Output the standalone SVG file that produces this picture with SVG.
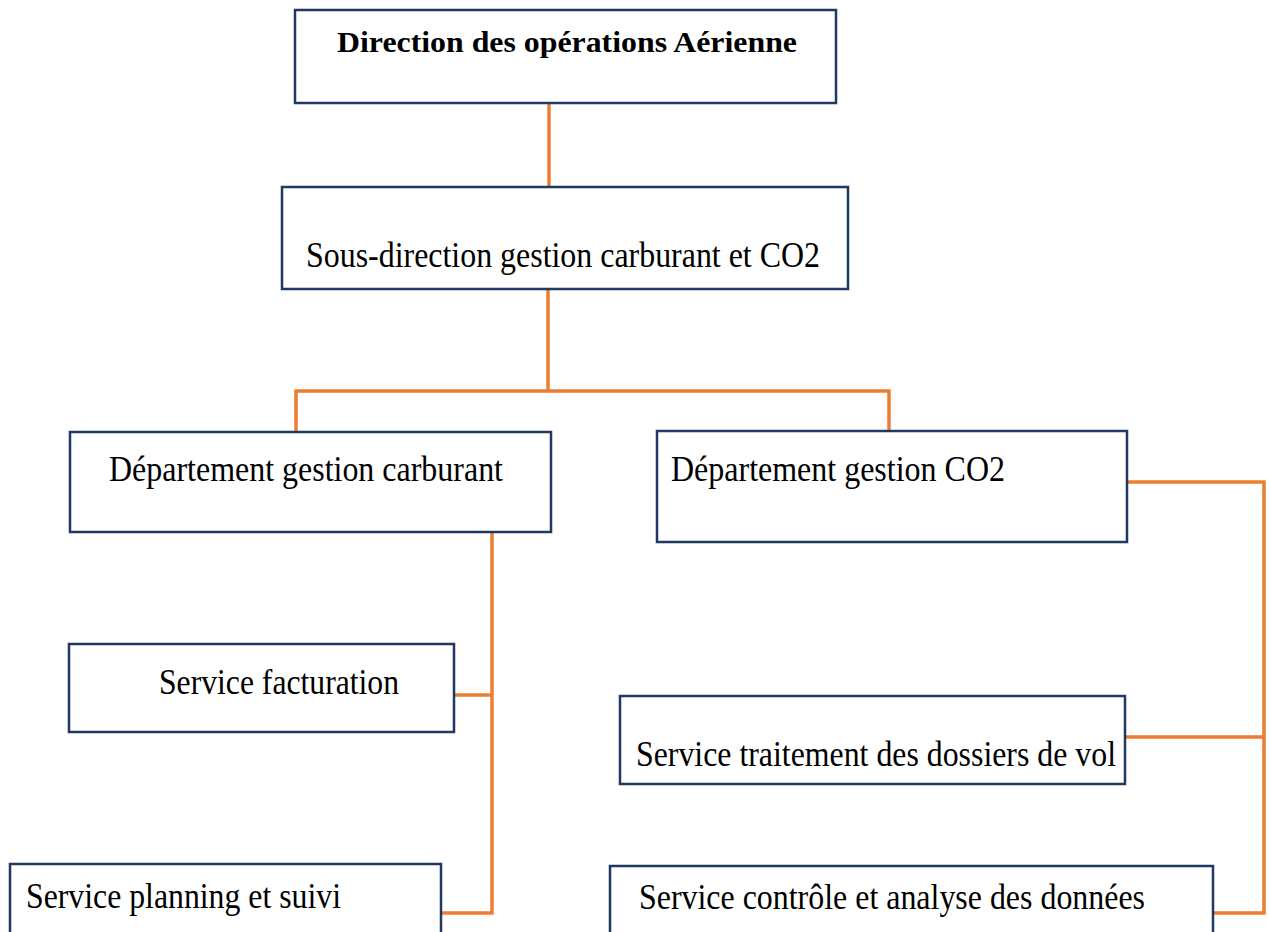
<svg xmlns="http://www.w3.org/2000/svg" width="1269" height="932" viewBox="0 0 1269 932">
<style>
.box{fill:#ffffff;stroke:#1F3864;stroke-width:2.5}
.t{font-family:"Liberation Serif","Times New Roman",serif;font-size:36px;fill:#000000}
.tb{font-family:"Liberation Serif","Times New Roman",serif;font-size:30px;font-weight:bold;fill:#000000}
.c{fill:none;stroke:#ED7D31;stroke-width:3.5;stroke-linejoin:miter;stroke-linecap:butt}
</style>
<rect width="1269" height="932" fill="#ffffff"/>
<g id="connectors">
<path class="c" d="M549 103 V187"/>
<path class="c" d="M548 289 V391"/>
<path class="c" d="M296 432 V391 H889 V431"/>
<path class="c" d="M492 532 V913 H441"/>
<path class="c" d="M454 695 H492"/>
<path class="c" d="M1127 482 H1264 V913 H1214"/>
<path class="c" d="M1125 737 H1264"/>
</g>
<g id="n_direction">
<rect class="box" x="295" y="10" width="541" height="93"/>
<text class="tb" x="337" y="52" textLength="460" lengthAdjust="spacingAndGlyphs">Direction des opérations Aérienne</text>
</g>
<g id="n_sousdirection">
<rect class="box" x="282" y="187" width="566" height="102"/>
<text class="t" x="306" y="267" textLength="514" lengthAdjust="spacingAndGlyphs">Sous-direction gestion carburant et CO2</text>
</g>
<g id="n_dep_carburant">
<rect class="box" x="70" y="432" width="481" height="100"/>
<text class="t" x="109" y="481" textLength="394" lengthAdjust="spacingAndGlyphs">Département gestion carburant</text>
</g>
<g id="n_dep_co2">
<rect class="box" x="657" y="431" width="470" height="111"/>
<text class="t" x="671" y="481" textLength="334" lengthAdjust="spacingAndGlyphs">Département gestion CO2</text>
</g>
<g id="n_facturation">
<rect class="box" x="69" y="644" width="385" height="88"/>
<text class="t" x="159" y="694" textLength="240" lengthAdjust="spacingAndGlyphs">Service facturation</text>
</g>
<g id="n_planning">
<rect class="box" x="10" y="864" width="431" height="80"/>
<text class="t" x="26" y="908" textLength="315" lengthAdjust="spacingAndGlyphs">Service planning et suivi</text>
</g>
<g id="n_traitement">
<rect class="box" x="620" y="696" width="505" height="88"/>
<text class="t" x="636" y="766" textLength="480" lengthAdjust="spacingAndGlyphs">Service traitement des dossiers de vol</text>
</g>
<g id="n_controle">
<rect class="box" x="610" y="866" width="603" height="80"/>
<text class="t" x="639" y="909" textLength="506" lengthAdjust="spacingAndGlyphs">Service contrôle et analyse des données</text>
</g>
</svg>
